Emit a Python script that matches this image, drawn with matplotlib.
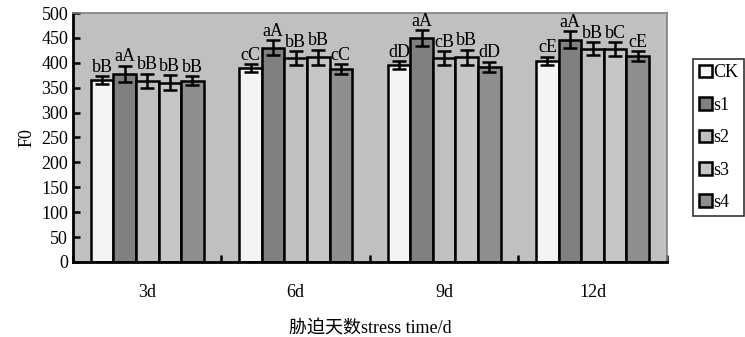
import numpy as np
import matplotlib.pyplot as plt

# 数据
days = ['3d', '6d', '9d', '12d']
series = ['CK', 's1', 's2', 's3', 's4']
values = {
    'CK': [365, 389, 395, 404],
    's1': [378, 430, 449, 446],
    's2': [364, 409, 409, 428],
    's3': [360, 411, 411, 427],
    's4': [364, 387, 392, 413],
}
errors = {
    'CK': [8, 8, 8, 8],
    's1': [16, 15, 16, 17],
    's2': [14, 14, 14, 13],
    's3': [15, 15, 15, 14],
    's4': [9, 10, 10, 10],
}
letters = {
    'CK': ['bB', 'cC', 'dD', 'cE'],
    's1': ['aA', 'aA', 'aA', 'aA'],
    's2': ['bB', 'bB', 'cB', 'bB'],
    's3': ['bB', 'bB', 'bB', 'bC'],
    's4': ['bB', 'cC', 'dD', 'cE'],
}
colors = ['#f4f4f4', '#808080', '#c0c0c0', '#c6c6c6', '#8e8e8e']

plt.rcParams['font.family'] = ['Liberation Serif', 'Noto Sans CJK SC']

fig = plt.figure(figsize=(7.45, 3.37), dpi=100)
ax = fig.add_axes([0.098, 0.2226, 0.797, 0.7388])
ax.set_facecolor('#c0c0c0')

x = np.arange(len(days))
w = 0.152
for i, s in enumerate(series):
    pos = x + (i - 2) * w
    ax.bar(pos, values[s], w, color=colors[i], edgecolor='black', linewidth=1.8,
           label=s, zorder=2)
    ax.errorbar(pos, values[s], yerr=errors[s], fmt='none', ecolor='black',
                elinewidth=1.8, capsize=5, capthick=1.8, zorder=3)
    for p, v, e, t in zip(pos, values[s], errors[s], letters[s]):
        ax.text(p, v + e + 1, t, ha='center', va='bottom', fontsize=13)

ax.set_xlim(-0.5, 3.5)
ax.set_ylim(0, 500)
ax.set_yticks(range(0, 501, 50))
ax.set_xticks(x)
ax.set_xticklabels(days, fontsize=13)
ax.set_xticks(np.arange(-0.5, 3.6, 1), minor=True)
ax.tick_params(axis='x', which='major', length=0, pad=16)
ax.tick_params(axis='x', which='minor', direction='in', length=5, width=1.8)
ax.tick_params(axis='y', direction='in', length=5, width=1.8, labelsize=13)

for side in ['left', 'bottom']:
    ax.spines[side].set_linewidth(2)
    ax.spines[side].set_color('black')
for side in ['top', 'right']:
    ax.spines[side].set_linewidth(1.2)
    ax.spines[side].set_color('#808080')

ax.set_ylabel('F0', fontsize=13, labelpad=4)
ax.set_xlabel('胁迫天数stress time/d', fontsize=13, labelpad=13)

leg = ax.legend(loc='upper left', bbox_to_anchor=(1.045, 0.815), fontsize=13,
                handlelength=0.7, handleheight=0.7, handletextpad=0.1,
                labelspacing=0.85, borderpad=0.3, borderaxespad=0,
                frameon=True, fancybox=False)
leg.get_frame().set_edgecolor('black')
leg.get_frame().set_linewidth(1.2)

fig.savefig('out.png', dpi=100)
